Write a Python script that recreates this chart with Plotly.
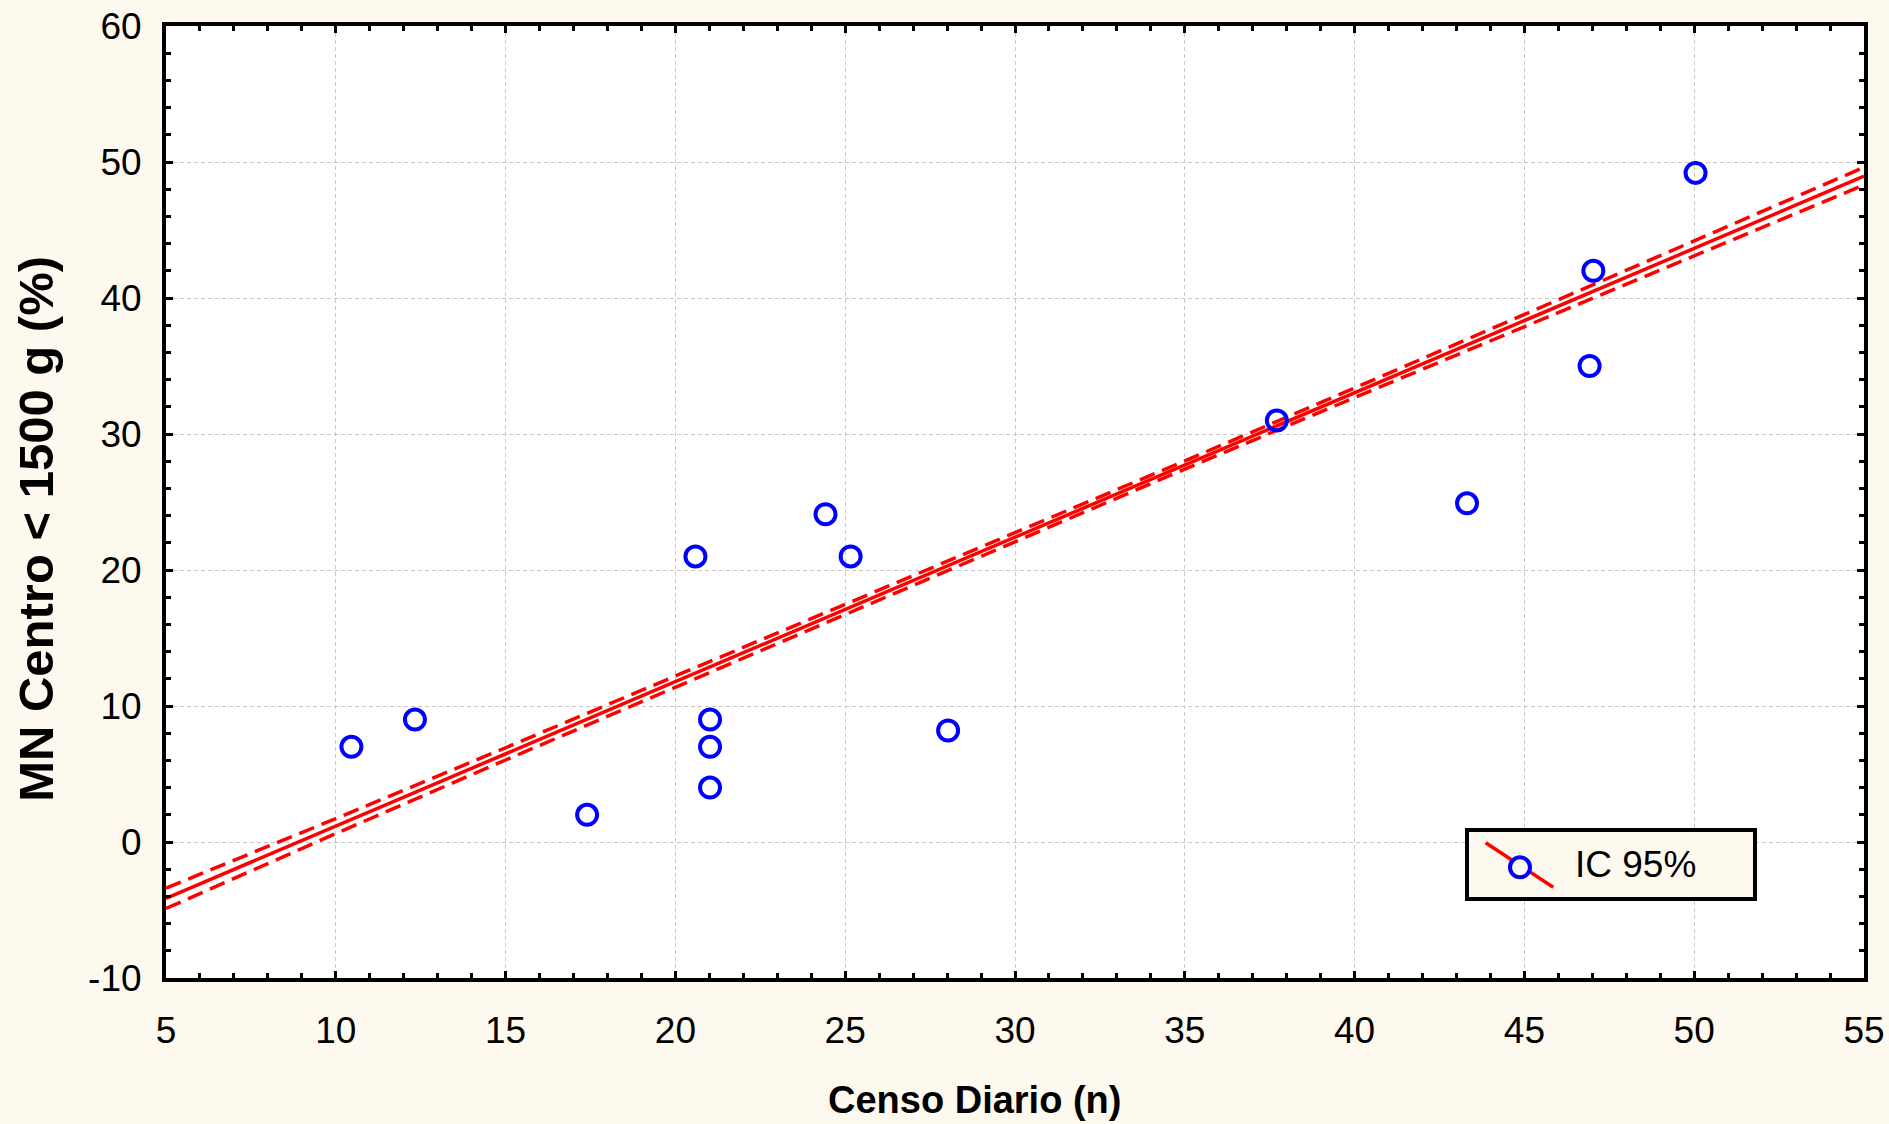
import plotly.graph_objects as go

# Observed data (Censo Diario vs MN Centro < 1500 g %)
censo = [10.46, 12.33, 17.40, 20.59, 21.02, 21.02, 21.02, 24.42, 25.16, 28.03,
         37.71, 43.31, 46.92, 47.03, 50.04]
mn_pct = [7.0, 9.0, 2.0, 21.0, 9.0, 7.0, 4.0, 24.1, 21.0, 8.2,
          31.0, 24.9, 35.0, 42.0, 49.2]

# Regression line and 95% band
fit_x = [5, 10, 15, 20, 25, 30, 35, 40, 45, 50, 55]
fit_y = [-4.14, 1.17, 6.48, 11.79, 17.10, 22.41, 27.72, 33.03, 38.34, 43.65, 48.96]
upper_y = [-3.39, 1.72, 6.93, 12.19, 17.45, 22.71, 28.02, 33.38, 38.79, 44.20, 49.61]
lower_y = [-4.89, 0.62, 6.03, 11.39, 16.75, 22.11, 27.42, 32.68, 37.89, 43.10, 48.31]

x_ticks = [5, 10, 15, 20, 25, 30, 35, 40, 45, 50, 55]
y_ticks = [-10, 0, 10, 20, 30, 40, 50, 60]

legend_label = "IC 95%"
x_title = "<b>Censo Diario (n)</b>"
y_title = "<b>MN Centro < 1500 g (%)</b>"

RED = "#FF0000"
BLUE = "#0000FF"
PAPER = "#FEF9EE"
FONT = "Liberation Sans, Arial, sans-serif"

fig = go.Figure()
fig.add_trace(go.Scatter(x=fit_x, y=upper_y, mode="lines", showlegend=False,
                         line=dict(color=RED, width=3.5, dash="16px,8px")))
fig.add_trace(go.Scatter(x=fit_x, y=lower_y, mode="lines", showlegend=False,
                         line=dict(color=RED, width=3.5, dash="16px,8px")))
fig.add_trace(go.Scatter(x=fit_x, y=fit_y, mode="lines", showlegend=False,
                         line=dict(color=RED, width=3.5)))
fig.add_trace(go.Scatter(x=censo, y=mn_pct, mode="markers", showlegend=False,
                         marker=dict(symbol="circle-open", size=20, color=BLUE,
                                     line=dict(color=BLUE, width=4))))

axis_common = dict(
    showline=True, linecolor="black", linewidth=4, mirror="allticks",
    ticks="inside", ticklen=7, tickwidth=3, tickcolor="black",
    showgrid=True, gridcolor="#C8C8C8", gridwidth=1, griddash="4px,3px",
    zeroline=False,
    tickfont=dict(family=FONT, size=37, color="black"),
)

fig.update_xaxes(range=[5, 55], tickvals=x_ticks, ticktext=[str(v) for v in x_ticks],
                 minor=dict(dtick=1, ticks="inside", ticklen=5, tickwidth=3,
                            tickcolor="black", showgrid=False),
                 ticklabelstandoff=17,
                 **axis_common)
fig.update_yaxes(range=[-10, 60], tickvals=y_ticks, ticktext=[str(v) for v in y_ticks],
                 minor=dict(dtick=2, ticks="inside", ticklen=5, tickwidth=3,
                            tickcolor="black", showgrid=False),
                 ticklabelstandoff=13,
                 **axis_common)

# Custom legend box (layout decoration in paper coordinates)
shapes = [
    dict(type="rect", xref="paper", yref="paper", x0=0.7662, x1=0.9358, y0=0.0830, y1=0.1555,
         line=dict(color="black", width=4), fillcolor=PAPER, layer="above"),
    dict(type="line", xref="paper", yref="paper", x0=0.7772, x1=0.8170, y0=0.1421, y1=0.0953,
         line=dict(color=RED, width=3.5), layer="above"),
    dict(type="circle", xref="paper", yref="paper", xsizemode="pixel", ysizemode="pixel",
         xanchor=0.7974, yanchor=0.1163, x0=-10, x1=10, y0=-10, y1=10,
         line=dict(color=BLUE, width=4), fillcolor=PAPER, layer="above"),
]
annotations = [
    dict(text=legend_label, xref="paper", yref="paper", x=0.8286, y=0.1187,
         xanchor="left", yanchor="middle", showarrow=False,
         font=dict(family=FONT, size=37, color="black")),
    dict(text=x_title, xref="paper", yref="paper", x=0.4762, y=-0.128,
         xanchor="center", yanchor="middle", showarrow=False,
         font=dict(family=FONT, size=38, color="black")),
    dict(text=y_title, xref="paper", yref="paper", x=-0.0766, y=0.4717, textangle=-90,
         xanchor="center", yanchor="middle", showarrow=False,
         font=dict(family=FONT, size=49, color="black")),
]

fig.update_layout(
    width=1889, height=1124,
    margin=dict(l=166, r=25, t=26, b=146, autoexpand=False),
    paper_bgcolor=PAPER, plot_bgcolor="white",
    font=dict(family=FONT, color="black"),
    showlegend=False,
    shapes=shapes, annotations=annotations,
)

fig.write_html("out.html", config={"displayModeBar": False},
               post_script="document.body.style.margin='0';document.body.style.overflow='hidden';")
